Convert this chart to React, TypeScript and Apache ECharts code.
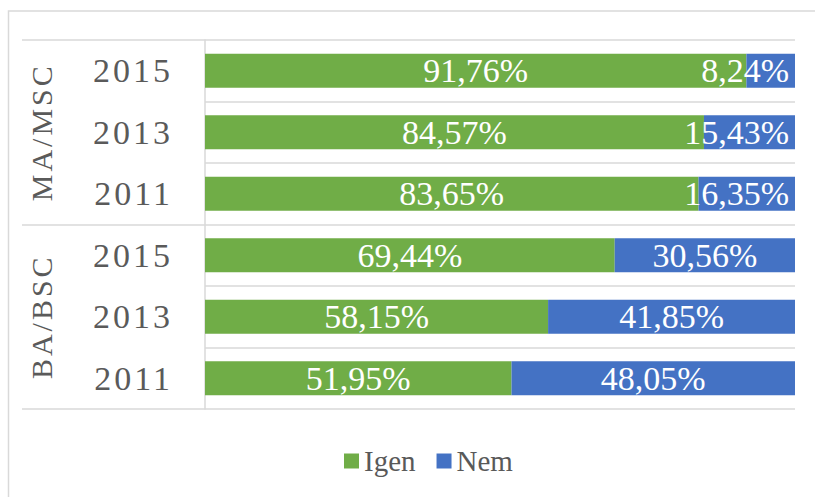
import React, { useEffect, useRef } from "react";
import * as echarts from "echarts";

const groups = ["BA/BSC", "MA/MSC"];
const years = ["2011", "2013", "2015"];
const igen = [51.95, 58.15, 69.44, 83.65, 84.57, 91.76];
const nem = [48.05, 41.85, 30.56, 16.35, 15.43, 8.24];
const seriesNames = ["Igen", "Nem"];

const FONT = "Liberation Serif";
const AXIS_TEXT = "#5a5a5a";
const LEGEND_TEXT = "#595959";
const GRID_LINE = "#D9D9D9";

const fmt = (v: number) => v.toFixed(2).replace(".", ",") + "%";

export default function App() {
  const ref = useRef<HTMLDivElement>(null);
  useEffect(() => {
    if (!ref.current) return;
    const chart = echarts.init(ref.current, null, { renderer: "svg" });
    const cats = groups.flatMap((g) => years.map((y) => g + "|" + y));
    const labelBase = {
      show: true,
      color: "#fff",
      fontFamily: FONT,
      fontSize: 34,
      formatter: (p: any) => fmt(p.value),
    };
    chart.setOption({
      animation: false,
      graphic: [
        {
          type: "rect",
          silent: true,
          z: -10,
          shape: { x: 8.5, y: 11, width: 1000, height: 1000 },
          style: { fill: "none", stroke: GRID_LINE, lineWidth: 1.5 },
        },
      ],
      grid: { left: 205, right: 20, top: 40, bottom: 88, containLabel: false },
      legend: {
        data: seriesNames,
        left: 339,
        top: 441,
        icon: "rect",
        itemWidth: 15,
        itemHeight: 15,
        itemGap: 21,
        textStyle: { color: LEGEND_TEXT, fontFamily: FONT, fontSize: 29, lineHeight: 30 },
      },
      xAxis: { type: "value", min: 0, max: 100, show: false },
      yAxis: [
        {
          type: "category",
          data: cats,
          position: "left",
          axisLine: { show: true, lineStyle: { color: GRID_LINE, width: 1.5 } },
          axisTick: { show: false },
          splitLine: { show: true, lineStyle: { color: GRID_LINE, width: 1.5 } },
          axisLabel: {
            color: AXIS_TEXT,
            fontFamily: FONT,
            fontSize: 34,
            margin: 32,
            formatter: (v: string) => v.split("|")[1],
          },
        },
        {
          type: "category",
          data: groups,
          position: "left",
          axisLine: { show: false },
          axisTick: { show: true, length: 183, lineStyle: { color: GRID_LINE, width: 1.5 } },
          splitLine: { show: false },
          axisLabel: {
            color: AXIS_TEXT,
            fontFamily: FONT,
            fontSize: 30,
            rotate: 90,
            margin: 149,
          },
        },
      ],
      series: [
        {
          name: seriesNames[0],
          type: "bar",
          stack: "total",
          yAxisIndex: 0,
          barWidth: 34,
          itemStyle: { color: "#70AD47" },
          label: { ...labelBase, position: "inside" },
          data: igen,
        },
        {
          name: seriesNames[1],
          type: "bar",
          stack: "total",
          yAxisIndex: 0,
          barWidth: 34,
          itemStyle: { color: "#4472C4" },
          data: nem.map((v) => ({
            value: v,
            label:
              v < 20
                ? { ...labelBase, position: "insideRight", distance: 6 }
                : { ...labelBase, position: "inside" },
          })),
        },
      ],
    });
    return () => chart.dispose();
  }, []);
  return (
    <>
      <style>{`text[fill="${AXIS_TEXT}"], text[fill="rgb(90,90,90)"] { letter-spacing: 3px; }`}</style>
      <div
        ref={ref}
        style={{ position: "fixed", left: 0, top: 0, width: 815, height: 497, background: "#fff" }}
      />
    </>
  );
}
